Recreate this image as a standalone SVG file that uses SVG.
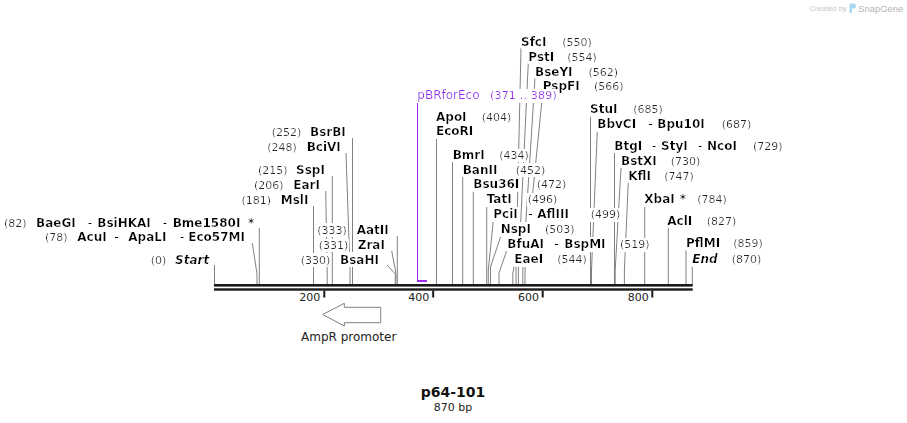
<svg xmlns="http://www.w3.org/2000/svg" width="907" height="423" viewBox="0 0 907 423">
<defs>
<filter id="bg" x="0" y="0" width="1" height="1"><feFlood flood-color="#ffffff" result="f"/><feMerge><feMergeNode in="f"/><feMergeNode in="SourceGraphic"/></feMerge></filter>
</defs>
<style>
text{font-family:"DejaVu Sans","Liberation Sans",sans-serif;}
.n{font-size:12px;font-weight:bold;fill:#000;filter:url(#bg);}
.i{font-size:12px;font-weight:bold;font-style:italic;fill:#000;filter:url(#bg);}
.p{font-size:11px;fill:#222;filter:url(#bg);}
.d{font-size:12px;fill:#000;filter:url(#bg);}
.t{font-size:11px;fill:#222;text-anchor:end;}
.c{fill:none;stroke:#808080;stroke-width:1;}
.pu{font-size:12px;fill:#9a2cf0;filter:url(#bg);}
</style>
<rect width="907" height="423" fill="#fff"/>
<g id="watermark">
<text x="809.5" y="10.5" style="font-family:'Liberation Sans',sans-serif;font-size:7.6px;fill:#c8c8c8">Created by</text>
<path d="M849.5 3.5 h4 a2.5 2.5 0 0 1 0 5 h-1.5 v4.5 h-2.5 z" fill="#a6d8f2"/>
<text x="858.3" y="11.5" style="font-family:'Liberation Sans',sans-serif;font-size:9.4px;fill:#b4b4b4">SnapGene</text>
</g>
<g id="connectors">
<path class="c" d="M214.5 265V284"/>
<path class="c" d="M252.3 243L257 274V284"/>
<path class="c" d="M259.3 228V284"/>
<path class="c" d="M313.5 206V284"/>
<path class="c" d="M325.7 191L327.2 273V284"/>
<path class="c" d="M332.3 176V284"/>
<path class="c" d="M346 153L350 270V284"/>
<path class="c" d="M352.5 138V284"/>
<path class="c" d="M387 265L395.3 274V284"/>
<path class="c" d="M391.7 251L395.9 273V284"/>
<path class="c" d="M397.3 236V284"/>
<path class="c" d="M436.5 138V284"/>
<path class="c" d="M452.5 162V284"/>
<path class="c" d="M462.7 176V284"/>
<path class="c" d="M473.3 191V284"/>
<path class="c" d="M486.7 206V284"/>
<path class="c" d="M493.3 221L488.3 270V284"/>
<path class="c" d="M500.7 236.5L490.5 267V284"/>
<path class="c" d="M506.5 251L499 273V284"/>
<path class="c" d="M514.3 266L512.8 273V284"/>
<path class="c" d="M521 48L516 270V284"/>
<path class="c" d="M528.3 63L518.4 270V284"/>
<path class="c" d="M535 78L522.8 270V284"/>
<path class="c" d="M542.7 93L525 270V284"/>
<path class="c" d="M590.5 116V284"/>
<path class="c" d="M597.3 131L591.5 270V284"/>
<path class="c" d="M614.5 153V284"/>
<path class="c" d="M621 168L615.2 270V284"/>
<path class="c" d="M628.3 182L624.4 270V284"/>
<path class="c" d="M644.7 206V284"/>
<path class="c" d="M668.3 228V284"/>
<path class="c" d="M686 250V284"/>
<path class="c" d="M692.3 266V284"/>
<path d="M417.5 102V280" fill="none" stroke="#9a2cf0" stroke-width="1"/>
</g>
<g id="backbone">
<rect x="214" y="284" width="478.7" height="2.6" fill="#1a1a1a"/>
<rect x="214" y="288.3" width="478.7" height="2.4" fill="#1a1a1a"/>
<rect x="323.3" y="290.5" width="2" height="7" fill="#1a1a1a"/>
<rect x="432.2" y="290.5" width="2" height="7" fill="#1a1a1a"/>
<rect x="541.7" y="290.5" width="2" height="7" fill="#1a1a1a"/>
<rect x="651.3" y="290.5" width="2" height="7" fill="#1a1a1a"/>
<text class="t" x="320.3" y="300.7">200</text>
<text class="t" x="429.3" y="300.7">400</text>
<text class="t" x="539" y="300.7">600</text>
<text class="t" x="648.7" y="300.7">800</text>
</g>
<g id="AmpR_promoter">
<path d="M322.7 314.5L344.3 303.3V307.3H380.7V322.7H344.3V326Z" fill="#fff" stroke="#808080" stroke-width="1"/>
<text x="301" y="340.7" style="font-size:12px;fill:#222">AmpR promoter</text>
</g>
<g id="site-82"><text class="p" x="4" y="227">(82)</text><text class="n" x="36" y="227">BaeGI</text><text class="d" x="87.7" y="227">-</text><text class="n" x="97.3" y="227">BsiHKAI</text><text class="d" x="162.7" y="227">-</text><text class="n" x="172.7" y="227">Bme1580I</text><text class="n" x="248" y="227">*</text></g>
<g id="site-78"><text class="p" x="45" y="241">(78)</text><text class="n" x="77.3" y="241">AcuI</text><text class="d" x="114.3" y="241">-</text><text class="n" x="128.3" y="241">ApaLI</text><text class="d" x="180" y="241">-</text><text class="n" x="188.3" y="241">Eco57MI</text></g>
<g id="start"><text class="p" x="150.7" y="263.5">(0)</text><text class="i" x="175" y="263.5">Start</text></g>
<g id="site-252"><text class="p" x="271.7" y="136">(252)</text><text class="n" x="310" y="136">BsrBI</text></g>
<g id="site-248"><text class="p" x="267.3" y="151">(248)</text><text class="n" x="306.7" y="151">BciVI</text></g>
<g id="site-215"><text class="p" x="258" y="173.5">(215)</text><text class="n" x="296" y="173.5">SspI</text></g>
<g id="site-206"><text class="p" x="254" y="188.5">(206)</text><text class="n" x="293.3" y="188.5">EarI</text></g>
<g id="site-181"><text class="p" x="241.5" y="203.5">(181)</text><text class="n" x="280.7" y="203.5">MslI</text></g>
<g id="site-333"><text class="p" x="317.3" y="233.5">(333)</text><text class="n" x="356.7" y="233.5">AatII</text></g>
<g id="site-331"><text class="p" x="318.7" y="249">(331)</text><text class="n" x="357.7" y="249">ZraI</text></g>
<g id="site-330"><text class="p" x="300.7" y="263.5">(330)</text><text class="n" x="340" y="263.5">BsaHI</text></g>
<g id="site-404"><text class="n" x="436" y="120.7">ApoI</text><text class="p" x="481.7" y="120.7">(404)</text><text class="n" x="436" y="135.3">EcoRI</text></g>
<g id="site-434"><text class="n" x="452.7" y="159">BmrI</text><text class="p" x="499.3" y="159">(434)</text></g>
<g id="site-452"><text class="n" x="462.7" y="173.5">BanII</text><text class="p" x="515.7" y="173.5">(452)</text></g>
<g id="site-472"><text class="n" x="473.3" y="188.3">Bsu36I</text><text class="p" x="536.7" y="188.3">(472)</text></g>
<g id="site-496"><text class="n" x="486.7" y="203.3">TatI</text><text class="p" x="527.7" y="203.3">(496)</text></g>
<g id="site-499"><text class="n" x="493.3" y="218.3">PciI</text><text class="d" x="528.3" y="218.3">-</text><text class="n" x="537.3" y="218.3">AflIII</text><text class="p" x="590.7" y="218.3">(499)</text></g>
<g id="site-503"><text class="n" x="500.7" y="233.3">NspI</text><text class="p" x="545" y="233.3">(503)</text></g>
<g id="site-519"><text class="n" x="507.3" y="248.3">BfuAI</text><text class="d" x="554.3" y="248.3">-</text><text class="n" x="564.3" y="248.3">BspMI</text><text class="p" x="620" y="248.3">(519)</text></g>
<g id="site-544"><text class="n" x="514.3" y="263.3">EaeI</text><text class="p" x="557.3" y="263.3">(544)</text></g>
<g id="site-550"><text class="n" x="521" y="45.7">SfcI</text><text class="p" x="562.3" y="45.7">(550)</text></g>
<g id="site-554"><text class="n" x="528.3" y="60.7">PstI</text><text class="p" x="567.3" y="60.7">(554)</text></g>
<g id="site-562"><text class="n" x="535" y="75.7">BseYI</text><text class="p" x="588.5" y="75.7">(562)</text></g>
<g id="site-566"><text class="n" x="542.7" y="90.3">PspFI</text><text class="p" x="594" y="90.3">(566)</text></g>
<g id="site-685"><text class="n" x="590" y="113.3">StuI</text><text class="p" x="633.3" y="113.3">(685)</text></g>
<g id="site-687"><text class="n" x="597.3" y="128.3">BbvCI</text><text class="d" x="648.3" y="128.3">-</text><text class="n" x="657.3" y="128.3">Bpu10I</text><text class="p" x="721.7" y="128.3">(687)</text></g>
<g id="site-729"><text class="n" x="614.3" y="150">BtgI</text><text class="d" x="652" y="150">-</text><text class="n" x="661" y="150">StyI</text><text class="d" x="698" y="150">-</text><text class="n" x="707" y="150">NcoI</text><text class="p" x="753" y="150">(729)</text></g>
<g id="site-730"><text class="n" x="621" y="165">BstXI</text><text class="p" x="670.7" y="165">(730)</text></g>
<g id="site-747"><text class="n" x="628.3" y="179.5">KflI</text><text class="p" x="664.3" y="179.5">(747)</text></g>
<g id="site-784"><text class="n" x="644.3" y="203.3">XbaI</text><text class="n" x="679.7" y="203.3">*</text><text class="p" x="697.3" y="203.3">(784)</text></g>
<g id="site-827"><text class="n" x="667.3" y="225">AclI</text><text class="p" x="706.7" y="225">(827)</text></g>
<g id="site-859"><text class="n" x="686" y="247.3">PflMI</text><text class="p" x="733.3" y="247.3">(859)</text></g>
<g id="end"><text class="i" x="692.3" y="263.3">End</text><text class="p" x="731.7" y="263.3">(870)</text></g>
<g id="pBRforEco">
<rect x="417" y="280" width="10" height="2" fill="#9a2cf0"/>
<text class="pu" x="417.3" y="99.3">pBRforEco</text>
<text class="pu" x="490" y="99.3" style="font-size:11px" textLength="66.7" lengthAdjust="spacing">(371 .. 389)</text>
</g>
<g id="title">
<text x="453" y="397" style="font-size:14px;font-weight:bold;fill:#111;text-anchor:middle">p64-101</text>
<text x="453" y="410.5" style="font-size:11px;fill:#222;text-anchor:middle">870 bp</text>
</g>
</svg>
